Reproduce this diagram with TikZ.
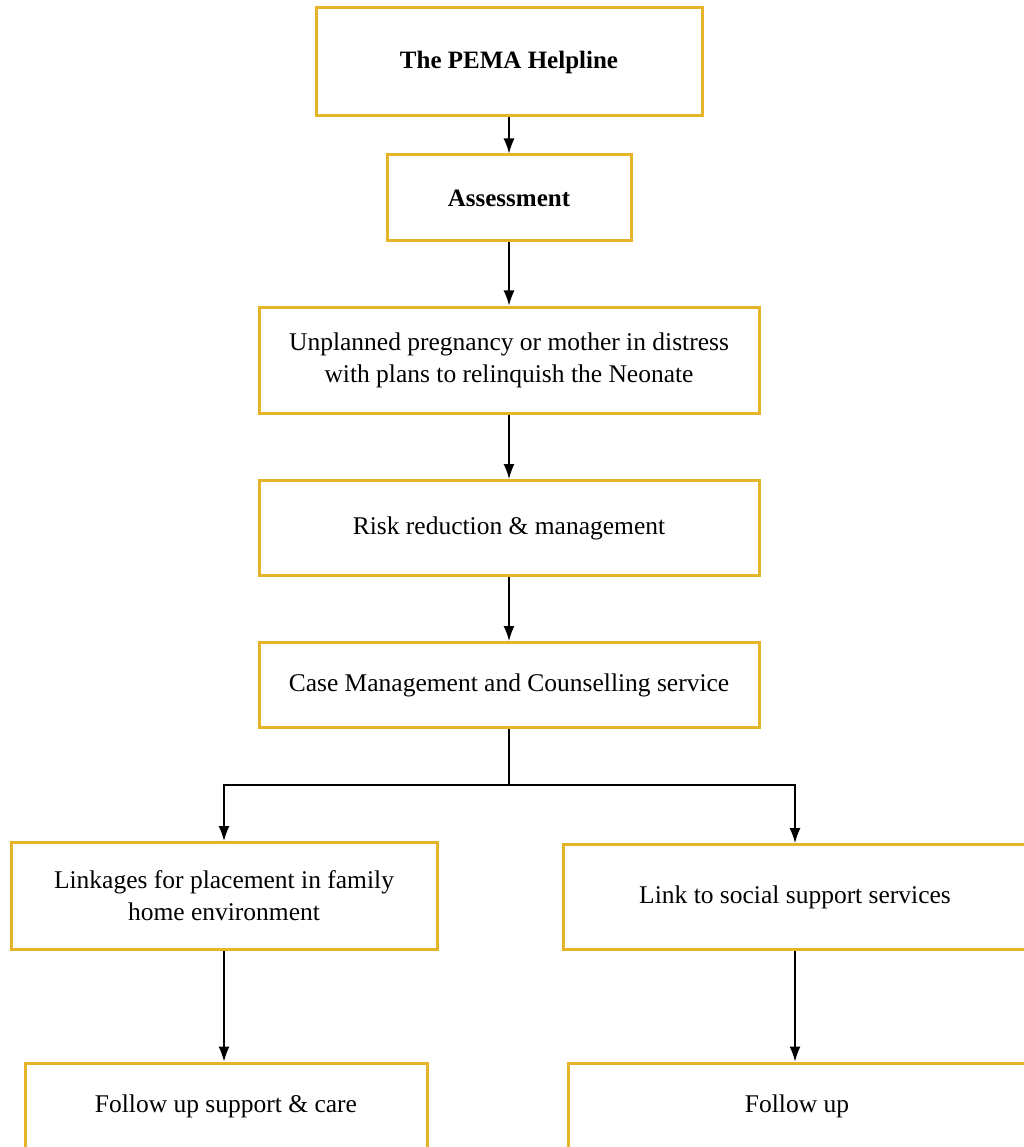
\documentclass[tikz,border=0pt]{standalone}
\usepackage{fontspec}
\setmainfont{Liberation Serif}
\usetikzlibrary{arrows.meta}
\definecolor{boxgold}{RGB}{230,180,40}
\tikzset{
  stepbox/.style={draw=boxgold, line width=3pt, align=center, inner sep=0pt},
  flow/.style={-{Latex[length=15pt,width=11pt]}, line width=1.4pt, black},
  link/.style={line width=1.4pt, black}
}
\begin{document}
\begin{tikzpicture}[x=1pt, y=-1pt, font=\fontsize{25.5}{32}\selectfont]
			%%%%% START %%%%%
			\useasboundingbox (0, 0) rectangle (1024, 1147);
			\clip (0, 0) rectangle (1024, 1147);
			
			\node[stepbox, minimum width=386, minimum height=108, font=\fontsize{25}{32}\selectfont\bfseries] (helpline) at (509, 62) {The PEMA Helpline};
			\node[stepbox, minimum width=244, minimum height=86, font=\fontsize{25}{32}\selectfont\bfseries] (assess) at (509, 198) {Assessment};
			\node[stepbox, minimum width=500, minimum height=106] (unplanned) at (509, 360) {Unplanned pregnancy or mother in distress\\with plans to relinquish the Neonate};
			\node[stepbox, minimum width=500, minimum height=95] (risk) at (509, 528) {Risk reduction \& management};
			\node[stepbox, minimum width=500, minimum height=85] (casemgmt) at (509, 685) {Case Management and Counselling service};
			
			\node[stepbox, minimum width=426, minimum height=107] (linkages) at (224, 896) {Linkages for placement in family\\home environment};
			\node[stepbox, minimum width=464, minimum height=105] (social) at (795, 897) {Link to social support services};
			
			\node[stepbox, minimum width=402, minimum height=86] (followcare) at (226, 1106) {Follow up support \& care};
			\node[stepbox, minimum width=458, minimum height=86] (followup) at (797, 1106) {Follow up};
			
			\coordinate (split) at (509, 785);
			
			\draw[flow] (helpline) -- (assess);
			\draw[flow] (assess) -- (unplanned);
			\draw[flow] (unplanned) -- (risk);
			\draw[flow] (risk) -- (casemgmt);
			
			\draw[link] (casemgmt.south) -- (split);
			\draw[flow] (split) -| (linkages.north);
			\draw[flow] (split) -| (social.north);
			
			\draw[flow] (linkages.south) -- (followcare.north -| linkages.south);
			\draw[flow] (social.south) -- (followup.north -| social.south);
			%%%%% END %%%%%
\end{tikzpicture}
\end{document}
